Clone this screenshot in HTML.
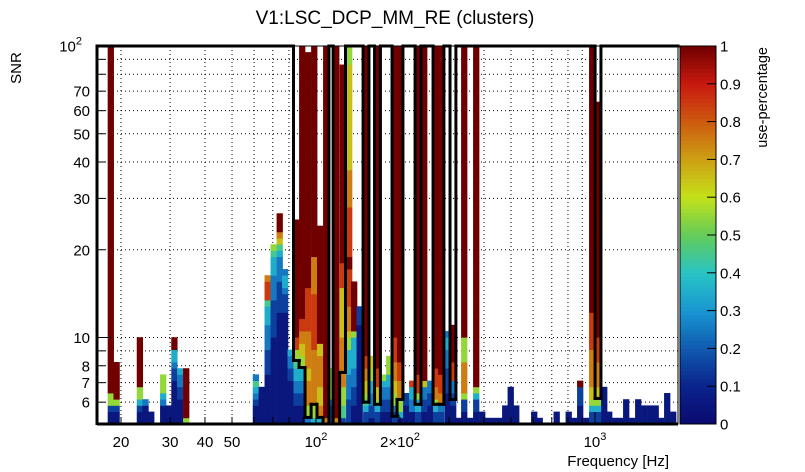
<!DOCTYPE html>
<html><head><meta charset="utf-8"><style>
html,body{margin:0;padding:0;background:#fff;}
svg{display:block;font-family:"Liberation Sans",Arial,sans-serif;}
</style></head><body>
<svg id="chart" width="805" height="472" viewBox="0 0 805 472" xmlns="http://www.w3.org/2000/svg">
<text x="395" y="24" font-size="19" text-anchor="middle">V1:LSC_DCP_MM_RE (clusters)</text>
<text transform="translate(21,68) rotate(-90)" font-size="15" text-anchor="middle">SNR</text>
<text x="669" y="466" font-size="15" text-anchor="end">Frequency [Hz]</text>
<text transform="translate(767,47) rotate(-90)" font-size="14.5" text-anchor="end">use-percentage</text>
<g id="grid"></g>
<g id="cells"></g>
<g id="contour"></g>
<g id="axes"></g>
<g id="cbar"></g>
</svg>
<script>
// ---- data ----
const colFreq = [18.36,19.26,23.34,24.45,25.63,28.29,29.63,31.03,32.55,34.21,
60.8,63.8,67.0,70.4,74.0,77.4,81.0,85.1,89.1,93.6,98.4,103.3,108.6,113.7,118.0,124.5,131.3,136.8,143.2,
151.1,158.1,166.1,173.9,182.7,191.9,200.0,210.2,220.9,232.1,243.9,256.3,269.2,280.5,296.0,309.7,
324.3,339.3,356.5,374.6,393.6,413.6,434.5,456.6,475.9,498.0,521.2,604.5,632.6,727.8,803.5,840.8,883.5,928.4,975.4,1025.2,
1077.3,1122.7,1179.6,1234.4,1291.5,1357.4,1426.2,1498.6,1574.5,1647.6,1724.3,1811.7,1903.6];
const colRuns = ["0:2 1:1 5:2 9:56","0:2 1:1 5:1 9:6","0:2 1:1 3:1 5:2 9:8","0:3 2:1","0:2","0:3 2:1 3:1 5:3","0:3","0:7 1:2 2:1 3:2 9:2","0:4 1:2 2:2 3:1","5:1 9:8",
"0:3 1:1 2:1 3:1 4:1 2:1","0:6","0:8 1:4 2:4 3:3 4:1 8:3 7:1","0:14 1:6 2:4 3:3 4:1 5:1","0:18 1:5 2:4 3:1 4:1 6:1 7:1 9:3","0:18 1:3 2:1 3:2 2:1","0:7 1:2 2:2 3:1",
"0:3 1:2 2:2 3:2 4:1 5:2 8:2 9:19","0:3 1:2 2:2 3:2 5:2 6:2 7:2 8:2 9:44","2:1 5:2 7:4 6:2 7:6 8:7 9:38","3:1 5:2 7:9 8:9 7:6 9:34","3:1 7:2 6:3 7:5 6:2 9:19","7:1 9:60",
"1:3 2:1 5:5","7:1 9:60","1:1 4:2 5:3 7:8 6:8 8:4 9:32","1:4 2:4 3:4 5:2 6:1 7:4 8:6 9:2 8:8 7:6 6:17 5:3","0:3 1:3 2:3 3:5 5:1 9:8","0:16 1:3",
"1:2 3:1 4:1 5:1 6:2 7:2 8:2 9:50","0:1 1:2 2:2 3:2 5:2 6:2","1:2 3:1 5:1 6:2 8:3 9:52","0:2 1:2 2:2 3:1 5:1","0:2 1:2 2:2 3:2 5:3","1:2 2:1 5:2 6:2 7:3 8:4 9:47","0:1 3:1 5:2 7:3 8:3 9:51",
"0:3 1:2","0:2 2:2 3:2 8:1","1:2 3:2 5:1 8:3 9:53","0:2 1:2 2:2 6:1 9:54","0:3 1:2 2:2","1:2 3:1 5:1 7:2 8:3 9:52","1:2 2:1 7:2 8:3 9:53","0:5 1:4 2:3 3:2 2:1","0:3 1:2 2:2 8:3 9:6",
"0:1","0:2 1:2 5:1 7:5 5:4 9:47","0:1","0:2 1:2 3:1 5:1 9:55","0:2","0:1","0:1","0:1","0:3","0:6","0:3","0:2","0:1","0:2","0:2","0:1","0:3 1:3 9:1","0:1",
"1:2 3:1 5:1 6:2 7:6 8:6 9:43","1:2 3:1 5:1 6:2 7:4 8:4 9:38",
"0:6","0:2","0:1","0:1","0:4","0:1","0:4","0:3","0:3","0:3","0:1","0:5","0:2"];
const contourFreq = [85.1,89.1,93.6,98.4,103.3,108.6,118.0,124.5,151.1,166.1,191.9,200.0,232.1,269.2,280.5,309.7,1025.2];
const contourLow  = [8.34,7.89,5.32,5.90,5.32,5.04,5.04,7.59,6.0,5.9,5.37,6.13,5.9,5.9,5.9,6.13,6.18];
const xTickLabels = ["20","30","40","50","10²","2×10²","10³"];
const xTickValues = [20,30,40,50,100,200,1000];
const yTickLabels = ["6","7","8","10","20","30","40","50","60","70","10²"];
const yTickValues = [6,7,8,10,20,30,40,50,60,70,100];
const cbTicks = [0,0.1,0.2,0.3,0.4,0.5,0.6,0.7,0.8,0.9,1];

// ---- layout / scales ----
const X0=97, X1=678, Y0=46, Y1=424;
const SNRMIN=5.05, SNRMAX=100, BINW=0.02108, ROWH=0.02126;
const xOf=f=>316+(Math.log10(f)-2)*279;
const yOf=s=>Y0+(Math.log10(SNRMAX)-Math.log10(s))*(Y1-Y0)/Math.log10(SNRMAX/SNRMIN);
const NS="http://www.w3.org/2000/svg";
function mk(tag,attrs,parent){const e=document.createElementNS(NS,tag);for(const k in attrs)e.setAttribute(k,attrs[k]);parent.appendChild(e);return e;}
const stops=[[0,[10,10,110]],[0.1,[10,35,140]],[0.2,[16,90,175]],[0.3,[25,150,210]],[0.4,[40,196,196]],[0.5,[100,204,90]],[0.6,[195,225,25]],[0.7,[205,160,20]],[0.8,[205,90,15]],[0.9,[200,25,15]],[1,[112,0,0]]];
function col(v){v=Math.max(0,Math.min(1,v));for(let i=1;i<stops.length;i++){if(v<=stops[i][0]){const a=stops[i-1],b=stops[i],t=(v-a[0])/(b[0]-a[0]);const c=a[1].map((q,j)=>Math.round(q+(b[1][j]-q)*t));return `rgb(${c})`;}}return 'rgb(112,0,0)';}

// grid
const grid=document.getElementById('grid');
const gx=[20,30,40,50,60,70,80,90,100,200,300,400,500,600,700,800,900,1000];
gx.forEach(f=>{const x=xOf(f);const l=mk('line',{x1:x,x2:x,y1:Y0,y2:Y1,stroke:'#000','stroke-width':1,'stroke-dasharray':'1,3'},grid);

});
const gy=[6,7,8,9,10,20,30,40,50,60,70,80,90];
gy.forEach(s=>{const y=yOf(s);const l=mk('line',{x1:X0,x2:X1,y1:y,y2:y,stroke:'#000','stroke-width':1,'stroke-dasharray':'1,3'},grid);

});

// cells
const cells=document.getElementById('cells');
colFreq.forEach((f,i)=>{
  const lf=Math.log10(f);const xa=xOf(Math.pow(10,lf-BINW/2)), xb=xOf(Math.pow(10,lf+BINW/2));
  let r=0;
  colRuns[i].split(' ').forEach(seg=>{const [c,n]=seg.split(':').map(Number);const v=c>=9?1:c/10+0.05;
    for(let k=0;k<n;k++){const lo=SNRMIN*Math.pow(10,r*ROWH), hi=Math.min(SNRMAX,SNRMIN*Math.pow(10,(r+1)*ROWH));
      if(lo<SNRMAX){const ya=yOf(hi), yb=yOf(lo);
      const rc=mk('rect',{x:xa,y:ya,width:xb-xa+0.4,height:yb-ya+0.4,fill:col(v)},cells);
      
      }
      r++;}
  });
});

// contour
const cg=document.getElementById('contour');
const SW=3;
function ln(x1,y1,x2,y2,name){const l=mk('line',{x1,y1,x2,y2,stroke:'#000','stroke-width':SW,'stroke-linecap':'square'},cg);

}
const iv=contourFreq.map((f,i)=>{const lf=Math.log10(f);return {a:xOf(Math.pow(10,lf-BINW/2)),b:xOf(Math.pow(10,lf+BINW/2)),y:Math.min(Y1,yOf(contourLow[i]))};});
let prevX=X0;
iv.forEach((c,i)=>{
  const p=iv[i-1], n=iv[i+1];
  const adjL=p&&Math.abs(p.b-c.a)<2, adjR=n&&Math.abs(n.a-c.b)<2;
  if(!adjL){ln(prevX,Y0,c.a,Y0,'contour-top');ln(c.a,Y0,c.a,c.y,'contour-edge');}
  else{ln(c.a,p.y,c.a,c.y,'contour-step');}
  ln(c.a,c.y,c.b,c.y,'contour-bottom');
  if(!adjR){ln(c.b,Y0,c.b,c.y,'contour-edge');prevX=c.b;}
});
ln(prevX,Y0,X1,Y0,'contour-top');

// axes
const ax=document.getElementById('axes');
const fr=mk('rect',{x:X0,y:Y0,width:X1-X0,height:Y1-Y0,fill:'none',stroke:'#000','stroke-width':1},ax);


const lft=mk('line',{x1:X0,y1:Y0,x2:X0,y2:Y1+1,stroke:'#000','stroke-width':3},ax);


const btm=mk('line',{x1:X0,y1:Y1,x2:X1,y2:Y1,stroke:'#000','stroke-width':3},ax);


[20,30,40,50,60,70,80,90,100,200,300,400,500,600,700,800,900,1000,2000].forEach(f=>{const x=xOf(f);if(x>X1)return;const L=(f===100||f===1000)?12:7;
  const t=mk('line',{x1:x,x2:x,y1:Y1,y2:Y1-L,stroke:'#000','stroke-width':1},ax);
  
  });
[6,7,8,9,10,20,30,40,50,60,70,80,90].forEach(s=>{const y=yOf(s);const L=(s===10)?14:8;
  const t=mk('line',{x1:X0,x2:X0+L,y1:y,y2:y,stroke:'#000','stroke-width':1},ax);
  
  });
xTickValues.forEach((f,i)=>{const s=xTickLabels[i];const t=mk('text',{x:xOf(f),y:447,'font-size':15,'text-anchor':'middle'},ax);
  if(s.endsWith('²')||s.endsWith('³')){t.textContent=s.slice(0,-1);const sp=mk('tspan',{dy:-7,'font-size':11},t);sp.textContent=s.endsWith('²')?'2':'3';}
  else t.textContent=s;
  
  });
yTickValues.forEach((v,i)=>{const s=yTickLabels[i];const t=mk('text',{x:s.endsWith('²')?82:90,y:yOf(v)+5.5,'font-size':15,'text-anchor':'end'},ax);
  if(s.endsWith('²')){t.textContent='10';const sp=mk('tspan',{dy:-7,'font-size':11},t);sp.textContent='2';}
  else t.textContent=s;
  
  });

// colorbar
const cb=document.getElementById('cbar');
const CX0=680,CX1=716,N=100;
for(let i=0;i<N;i++){const v=(i+0.5)/N;const ya=Y1-(i+1)*(Y1-Y0)/N;
  const r=mk('rect',{x:CX0,y:ya,width:CX1-CX0,height:(Y1-Y0)/N+0.5,fill:col(v)},cb);
  
  }
const cbf=mk('rect',{x:CX0,y:Y0,width:CX1-CX0,height:Y1-Y0,fill:'none',stroke:'#000','stroke-width':1},cb);


cbTicks.forEach(v=>{const y=Y1-v*(Y1-Y0);
  const t=mk('line',{x1:CX1-9,x2:CX1,y1:y,y2:y,stroke:'#000','stroke-width':1},cb);
  
  
  const l=mk('text',{x:CX1+4,y:y+5.5,'font-size':15},cb);l.textContent=String(v);
  
  });
</script>
</body></html>
